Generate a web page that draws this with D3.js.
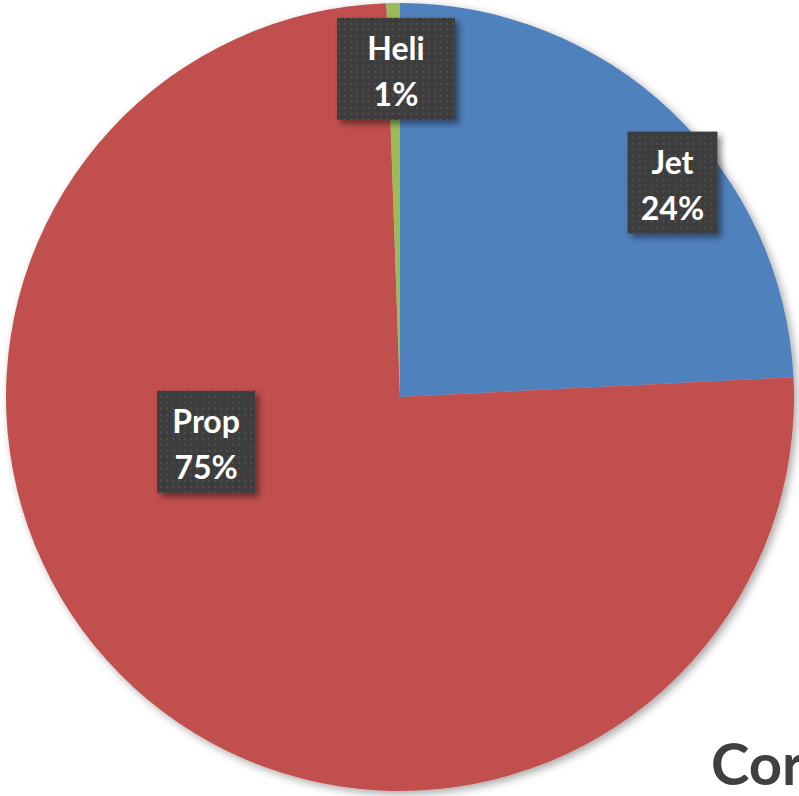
<!DOCTYPE html>
<html><head><meta charset="utf-8">
<script src="https://cdn.jsdelivr.net/npm/d3@7"></script>
<style>html,body{margin:0;padding:0;background:#fff;overflow:hidden}</style>
</head><body>
<svg id="chart" width="799" height="796"></svg>
<script>
// Data
const categories = ["Jet", "Prop", "Heli"];
const values = [24.2, 75.25, 0.55];
const percentLabels = ["24%", "75%", "1%"];
const colors = ["#4F81BD", "#C0504D", "#9BBB59"];
// Label placement (angle in degrees clockwise from top, radius fraction)
const labelAngles = [51.8, 257, 359.3];
const labelRadii = [0.88, 0.505, 0.833];
const titleText = "Cor";

const W = 799, H = 796;
const cx = 400, cy = 397, R = 394;
const svg = d3.select("#chart");
const defs = svg.append("defs");

const sh = defs.append("filter").attr("id","pieShadow").attr("x","-10%").attr("y","-10%").attr("width","120%").attr("height","120%");
sh.append("feDropShadow").attr("dx",3).attr("dy",3).attr("stdDeviation",4).attr("flood-color","#000").attr("flood-opacity",0.35);

const bsh = defs.append("filter").attr("id","boxShadow").attr("x","-20%").attr("y","-20%").attr("width","150%").attr("height","150%");
bsh.append("feDropShadow").attr("dx",4).attr("dy",4).attr("stdDeviation",3).attr("flood-color","#000").attr("flood-opacity",0.45);

const pat = defs.append("pattern").attr("id","dots").attr("patternUnits","userSpaceOnUse").attr("width",6).attr("height",6);
pat.append("rect").attr("width",6).attr("height",6).attr("fill","#3c3c3c");
pat.append("rect").attr("x",2).attr("y",2).attr("width",2).attr("height",2).attr("fill","#4f4f4f");

const pie = d3.pie().sort(null).value(d => d)(values);
const arc = d3.arc().innerRadius(0).outerRadius(R);

const g = svg.append("g").attr("transform", `translate(${cx},${cy})`);
g.append("g").attr("filter","url(#pieShadow)")
  .selectAll("path").data(pie).join("path")
  .attr("d", arc)
  .attr("fill", (d,i) => colors[i]);

// Labels
const angScale = d3.scaleLinear().domain([0,360]).range([0, 2*Math.PI]);
const rScale = d3.scaleLinear().domain([0,1]).range([0,R]);
const boxW = [90, 98, 118], boxH = 102;
categories.forEach((c,i) => {
  const a = angScale(labelAngles[i]), r = rScale(labelRadii[i]);
  const x = r*Math.sin(a), y = -r*Math.cos(a);
  const lg = g.append("g").attr("transform", `translate(${x},${y})`);
  lg.append("rect").attr("x", -boxW[i]/2).attr("y", -boxH/2).attr("width", boxW[i]).attr("height", boxH)
    .attr("fill","url(#dots)").attr("filter","url(#boxShadow)");
  lg.append("text").attr("text-anchor","middle").attr("y",-9)
    .attr("font-family","Lato, 'Open Sans', sans-serif").attr("font-weight","bold").attr("font-size",32)
    .attr("fill","#fff").text(c);
  lg.append("text").attr("text-anchor","middle").attr("y",37)
    .attr("font-family","Lato, 'Open Sans', sans-serif").attr("font-weight","bold").attr("font-size",32)
    .attr("fill","#fff").text(percentLabels[i]);
});

svg.append("text").attr("x",711).attr("y",785)
  .attr("font-family","Lato, 'Open Sans', sans-serif").attr("font-weight","bold").attr("font-size",58)
  .attr("fill","#404040").text(titleText);
</script>
</body></html>
